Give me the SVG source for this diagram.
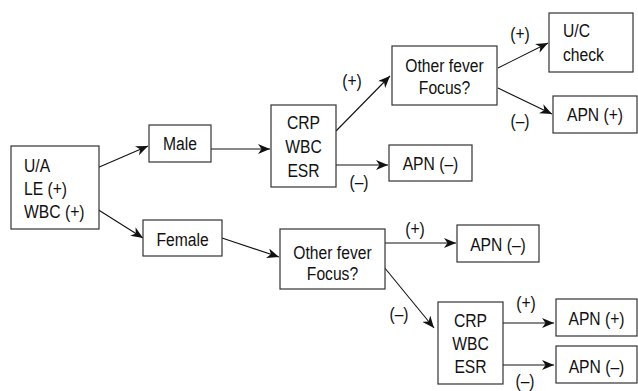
<svg xmlns="http://www.w3.org/2000/svg" width="638" height="391" viewBox="0 0 638 391">
<style>
.box{fill:#fff;stroke:#333;stroke-width:1.2}
.t{font-family:"Liberation Sans",Arial,Helvetica,sans-serif;font-size:18px;fill:#111}
.c{text-anchor:middle}
.e{stroke:#111;stroke-width:1.1;fill:none;marker-end:url(#ah)}
</style>
<defs>
<marker id="ah" markerUnits="userSpaceOnUse" markerWidth="14" markerHeight="10" refX="12" refY="5" orient="auto">
<path d="M0,0 L12,5 L0,10 L3.5,5 z" fill="#111"/>
</marker>
</defs>
<rect width="638" height="391" fill="#fff"/>
<g id="connectors">
<line class="e" x1="97" y1="168" x2="148" y2="146"/>
<line class="e" x1="97" y1="209" x2="143" y2="238"/>
<line class="e" x1="211" y1="149" x2="270" y2="149"/>
<line class="e" x1="336" y1="131" x2="390" y2="76"/>
<line class="e" x1="336" y1="165" x2="388" y2="165"/>
<line class="e" x1="498" y1="68" x2="548" y2="43"/>
<line class="e" x1="498" y1="88" x2="552" y2="114"/>
<line class="e" x1="222" y1="238" x2="279" y2="257"/>
<line class="e" x1="385" y1="243" x2="456" y2="243"/>
<line class="e" x1="384" y1="267" x2="434" y2="328"/>
<line class="e" x1="503" y1="323" x2="554" y2="323"/>
<line class="e" x1="503" y1="365" x2="554" y2="365"/>
<text class="t c" x="352" y="87" textLength="19.6" lengthAdjust="spacingAndGlyphs">(+)</text>
<text class="t c" x="359" y="188" textLength="19.1" lengthAdjust="spacingAndGlyphs">(–)</text>
<text class="t c" x="520" y="40" textLength="19.6" lengthAdjust="spacingAndGlyphs">(+)</text>
<text class="t c" x="520" y="127" textLength="19.1" lengthAdjust="spacingAndGlyphs">(–)</text>
<text class="t c" x="415" y="235" textLength="19.6" lengthAdjust="spacingAndGlyphs">(+)</text>
<text class="t c" x="399" y="320" textLength="19.1" lengthAdjust="spacingAndGlyphs">(–)</text>
<text class="t c" x="526" y="309" textLength="19.6" lengthAdjust="spacingAndGlyphs">(+)</text>
<text class="t c" x="525" y="387" textLength="19.1" lengthAdjust="spacingAndGlyphs">(–)</text>
</g>
<g id="ua"><rect class="box" x="11" y="146" width="88" height="83"/>
<text class="t" x="24" y="172" textLength="26.1" lengthAdjust="spacingAndGlyphs">U/A</text>
<text class="t" x="24" y="195" textLength="43.1" lengthAdjust="spacingAndGlyphs">LE (+)</text>
<text class="t" x="24" y="218" textLength="60.5" lengthAdjust="spacingAndGlyphs">WBC (+)</text></g>
<g id="male"><rect class="box" x="149" y="125" width="62" height="37"/><text class="t c" x="180" y="150" textLength="33.9" lengthAdjust="spacingAndGlyphs">Male</text></g>
<g id="female"><rect class="box" x="143" y="220" width="79" height="36"/><text class="t c" x="182.5" y="246" textLength="52.2" lengthAdjust="spacingAndGlyphs">Female</text></g>
<g id="crp1"><rect class="box" x="271" y="105" width="65" height="82"/>
<text class="t c" x="303.5" y="129" textLength="33.1" lengthAdjust="spacingAndGlyphs">CRP</text>
<text class="t c" x="303.5" y="153" textLength="36.5" lengthAdjust="spacingAndGlyphs">WBC</text>
<text class="t c" x="303.5" y="177" textLength="32.2" lengthAdjust="spacingAndGlyphs">ESR</text></g>
<g id="apn_m1"><rect class="box" x="389" y="145" width="83" height="36"/><text class="t c" x="430.5" y="170" textLength="55.7" lengthAdjust="spacingAndGlyphs">APN (–)</text></g>
<g id="other1"><rect class="box" x="392" y="46" width="105" height="59"/>
<text class="t c" x="444.5" y="72" textLength="78.3" lengthAdjust="spacingAndGlyphs">Other fever</text>
<text class="t c" x="444.5" y="94" textLength="51.3" lengthAdjust="spacingAndGlyphs">Focus?</text></g>
<g id="uc"><rect class="box" x="549" y="13" width="84" height="59"/>
<text class="t" x="563" y="37" textLength="27" lengthAdjust="spacingAndGlyphs">U/C</text>
<text class="t" x="563" y="61" textLength="40.9" lengthAdjust="spacingAndGlyphs">check</text></g>
<g id="apn_p1"><rect class="box" x="553" y="96" width="84" height="37"/><text class="t c" x="595" y="121" textLength="56.1" lengthAdjust="spacingAndGlyphs">APN (+)</text></g>
<g id="other2"><rect class="box" x="280" y="229" width="105" height="60"/>
<text class="t c" x="332.5" y="259" textLength="78.3" lengthAdjust="spacingAndGlyphs">Other fever</text>
<text class="t c" x="332.5" y="280" textLength="51.3" lengthAdjust="spacingAndGlyphs">Focus?</text></g>
<g id="apn_f"><rect class="box" x="457" y="225" width="82" height="37"/><text class="t c" x="498" y="251" textLength="55.7" lengthAdjust="spacingAndGlyphs">APN (–)</text></g>
<g id="crp2"><rect class="box" x="438" y="302" width="65" height="82"/>
<text class="t c" x="470.5" y="327" textLength="33.1" lengthAdjust="spacingAndGlyphs">CRP</text>
<text class="t c" x="470.5" y="350" textLength="36.5" lengthAdjust="spacingAndGlyphs">WBC</text>
<text class="t c" x="470.5" y="373" textLength="32.2" lengthAdjust="spacingAndGlyphs">ESR</text></g>
<g id="apn_p2"><rect class="box" x="556" y="299" width="81" height="37"/><text class="t c" x="596.5" y="325" textLength="56.1" lengthAdjust="spacingAndGlyphs">APN (+)</text></g>
<g id="apn_m2"><rect class="box" x="556" y="346" width="81" height="37"/><text class="t c" x="596.5" y="373" textLength="55.7" lengthAdjust="spacingAndGlyphs">APN (–)</text></g>
</svg>
